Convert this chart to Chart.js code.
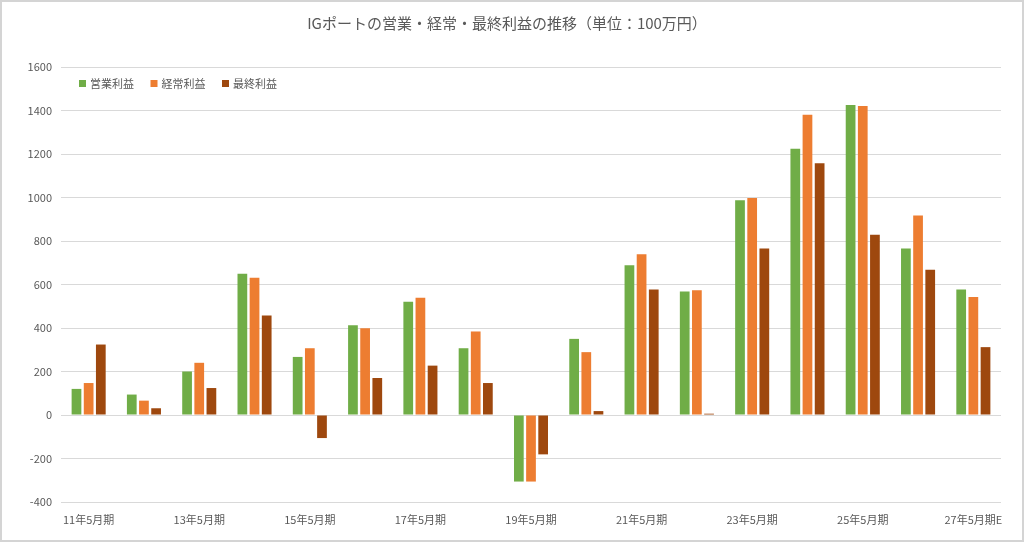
<!DOCTYPE html>
<html>
<head>
<meta charset="utf-8">
<script src="https://cdn.jsdelivr.net/npm/chart.js@4"></script>
<style>
  body { margin: 0; background: #fff; }
  #wrap { position: relative; width: 1024px; height: 542px; }
  #frame { position: absolute; left: 0; top: 0; width: 1020px; height: 538px; border: 2px solid #d4d4d4; pointer-events: none; }
</style>
</head>
<body>
<div id="wrap">
  <canvas id="profitChart" width="1024" height="542"></canvas>
  <div id="frame"></div>
</div>
<script>
// 期 (fiscal years)
let periods = ['11年5月期', '12年5月期', '13年5月期', '14年5月期', '15年5月期', '16年5月期', '17年5月期', '18年5月期',
  '19年5月期', '20年5月期', '21年5月期', '22年5月期', '23年5月期', '24年5月期', '25年5月期', '26年5月期', '27年5月期E'];
let seriesNames = ['営業利益', '経常利益', '最終利益'];
let operatingProfit = [120, 94, 200, 650, 267, 413, 521, 307, -306, 350, 689, 568, 987, 1224, 1425, 765, 577];
let ordinaryProfit = [147, 66, 240, 631, 307, 399, 539, 384, -306, 289, 739, 573, 998, 1381, 1421, 917, 542];
let netProfit = [324, 31, 124, 458, -106, 170, 227, 147, -181, 18, 577, 6, 765, 1158, 829, 668, 312];
let yTicks = [-400, -200, 0, 200, 400, 600, 800, 1000, 1200, 1400, 1600];

let chartTitle = 'IGポートの営業・経常・最終利益の推移（単位：100万円）';
let colors = ['#70ad47', '#ed7d31', '#9e480e'];
let fontFam = '"Noto Sans CJK JP", "Noto Sans", sans-serif';

// title + legend drawn inside the plot, like the excel chart
const titleLegendPlugin = {
  id: 'titleLegend',
  afterDraw(chart) {
    let ctx = chart.ctx;
    ctx.save();
    ctx.fillStyle = '#595959';
    ctx.font = `15px ${fontFam}`;
    ctx.textAlign = 'center';
    ctx.textBaseline = 'middle';
    ctx.fillText(chartTitle, 507, 23);

    ctx.font = `11px ${fontFam}`;
    ctx.textAlign = 'left';
    let x = 79;
    chart.data.datasets.forEach(function(ds) {
      ctx.fillStyle = ds.backgroundColor;
      ctx.fillRect(x, 80, 7, 7);
      ctx.fillStyle = '#595959';
      ctx.fillText(ds.label, x + 11, 84);
      x = x + 71.5;
    });
    ctx.restore();
  }
};

let datasets = [operatingProfit, ordinaryProfit, netProfit].map(function(vals, i) {
  return {
    label: seriesNames[i],
    data: vals,
    backgroundColor: colors[i],
    categoryPercentage: 0.66,
    barPercentage: 0.8
  };
});

new Chart(document.getElementById('profitChart'), {
  type: 'bar',
  data: { labels: periods, datasets: datasets },
  options: {
    responsive: false,
    animation: false,
    layout: { padding: { top: 67, right: 23, bottom: 0, left: 0 } },
    plugins: {
      legend: { display: false },
      title: { display: false },
      tooltip: { enabled: false }
    },
    scales: {
      x: {
        grid: { display: false },
        border: { display: false },
        ticks: {
          autoSkip: false,
          maxRotation: 0,
          padding: 3,
          color: '#595959',
          font: { family: fontFam, size: 11 },
          callback: function(val, idx) {
            return idx % 2 === 0 ? periods[idx] : '';
          }
        },
        afterFit: function(scale) { scale.height = 40; }
      },
      y: {
        min: yTicks[0],
        max: yTicks[yTicks.length - 1],
        afterBuildTicks: function(scale) {
          scale.ticks = yTicks.map(function(v) { return { value: v }; });
        },
        grid: { color: '#d9d9d9', drawTicks: false },
        border: { display: false },
        ticks: {
          padding: 9,
          color: '#595959',
          font: { family: fontFam, size: 11 },
          callback: function(v) { return String(v); }
        },
        afterFit: function(scale) { scale.width = 61; }
      }
    }
  },
  plugins: [titleLegendPlugin]
});
</script>
</body>
</html>
